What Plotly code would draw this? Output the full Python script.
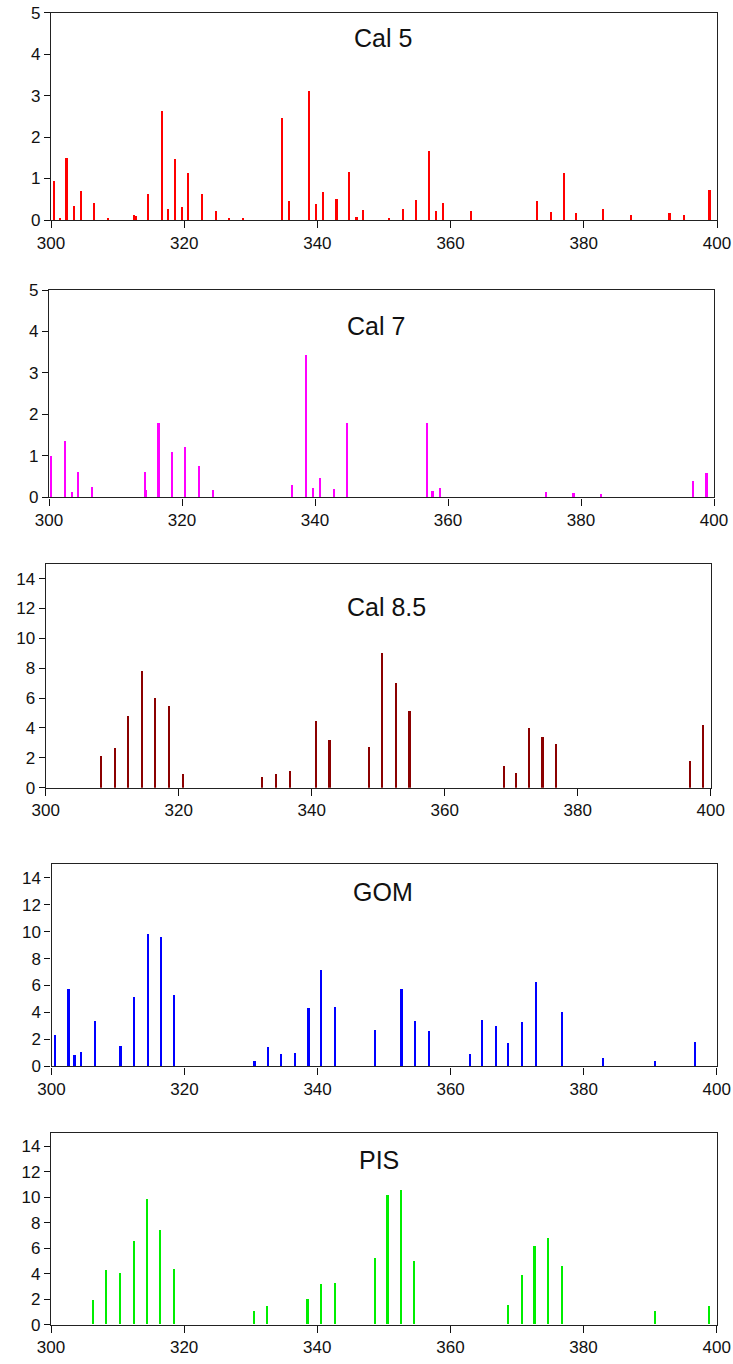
import plotly.graph_objects as go

W, H = 733, 1364

# ---------------- data ----------------
cal5_x = [300.5, 301.4, 302.4, 303.5, 304.5, 306.5, 308.5, 312.5, 312.8, 314.5, 316.6, 317.6, 318.6, 319.6,
          320.6, 322.6, 324.7, 326.7, 328.8, 334.7, 335.7, 338.7, 339.8, 340.8, 342.9, 344.8, 345.9, 346.9,
          350.8, 352.8, 354.8, 356.8, 357.8, 358.9, 363.0, 372.9, 375.0, 377.0, 378.9, 382.9, 387.1, 392.9,
          395.0, 398.9]
cal5_y = [0.94, 0.05, 1.50, 0.34, 0.71, 0.42, 0.06, 0.12, 0.10, 0.64, 2.63, 0.27, 1.49, 0.31,
          1.13, 0.63, 0.23, 0.05, 0.05, 2.47, 0.46, 3.12, 0.39, 0.69, 0.51, 1.17, 0.07, 0.24,
          0.05, 0.27, 0.50, 1.66, 0.22, 0.42, 0.22, 0.47, 0.20, 1.13, 0.17, 0.28, 0.14, 0.17,
          0.14, 0.72]

cal7_x = [300.3, 302.4, 303.4, 304.4, 306.5, 314.4, 314.6, 316.5, 318.5, 320.5, 322.6, 324.6, 336.6,
          338.7, 339.7, 340.8, 342.8, 344.8, 356.8, 357.7, 358.8, 374.8, 378.9, 383.0, 396.8, 398.9]
cal7_y = [1.00, 1.37, 0.13, 0.61, 0.25, 0.61, 0.18, 1.80, 1.09, 1.21, 0.76, 0.18, 0.30,
          3.43, 0.23, 0.46, 0.20, 1.80, 1.79, 0.15, 0.23, 0.13, 0.10, 0.08, 0.39, 0.59]

cal85_x = [308.3, 310.4, 312.4, 314.4, 316.4, 318.5, 320.6, 332.5, 334.6, 336.7, 340.6, 342.7, 348.6,
           350.6, 352.6, 354.7, 368.8, 370.7, 372.7, 374.7, 376.7, 396.9, 398.8]
cal85_y = [2.17, 2.66, 4.81, 7.83, 6.02, 5.52, 0.94, 0.72, 0.94, 1.12, 4.52, 3.20, 2.73,
           9.04, 7.02, 5.14, 1.48, 0.98, 4.05, 3.42, 2.97, 1.83, 4.20]

gom_x = [300.4, 302.5, 303.4, 304.4, 306.4, 310.3, 312.3, 314.4, 316.4, 318.4, 330.5, 332.5, 334.5,
         336.6, 338.6, 340.5, 342.6, 348.6, 352.6, 354.6, 356.7, 362.9, 364.7, 366.8, 368.6, 370.7,
         372.7, 376.7, 382.9, 390.7, 396.7]
gom_y = [2.28, 5.72, 0.84, 1.07, 3.37, 1.49, 5.15, 9.81, 9.61, 5.28, 0.37, 1.39, 0.87,
         0.99, 4.29, 7.14, 4.36, 2.70, 5.72, 3.37, 2.58, 0.92, 3.44, 2.97, 1.73, 3.30,
         6.24, 4.04, 0.62, 0.40, 1.81]

pis_x = [306.3, 308.3, 310.3, 312.4, 314.4, 316.4, 318.5, 330.5, 332.5, 338.6, 340.6, 342.7, 348.7,
         350.6, 352.6, 354.6, 368.7, 370.8, 372.7, 374.7, 376.8, 390.8, 398.9]
pis_y = [1.93, 4.28, 3.99, 6.54, 9.80, 7.43, 4.35, 1.02, 1.41, 1.96, 3.18, 3.26, 5.24,
         10.17, 10.56, 4.98, 1.49, 3.91, 6.13, 6.80, 4.54, 1.02, 1.41]

titles = ["Cal 5", "Cal 7", "Cal 8.5", "GOM", "PIS"]
x_ticks = [300, 320, 340, 360, 380, 400]
y_ranges = [[0, 5], [0, 5], [0, 15], [0, 15], [0, 15]]
y_dticks = [1, 1, 2, 2, 2]
colors = ["#FF0000", "#FF00FF", "#8B0000", "#0000FF", "#00EE00"]
series = [(cal5_x, cal5_y), (cal7_x, cal7_y), (cal85_x, cal85_y), (gom_x, gom_y), (pis_x, pis_y)]

# ---------------- layout (pixel boxes in window coordinates) ----------------
boxes = [  # x0, x1, ytop, ybottom
    (51, 717, 12.7, 220),
    (49, 714, 290, 497.3),
    (45.7, 710.7, 563.7, 787.7),
    (51.5, 716.7, 864.3, 1066.3),
    (51, 716.7, 1133.3, 1324.7),
]
title_pos = [(383, 38), (376, 325.5), (386.7, 607), (383.3, 892), (379.3, 1159.5)]


def px(x):
    return x / W


def py(y):
    return 1 - y / H


FONT = "Liberation Sans, Arial, sans-serif"

fig = go.Figure()
layout = dict(
    width=W, height=H,
    margin=dict(l=0, r=0, t=0, b=0, autoexpand=False),
    paper_bgcolor="white", plot_bgcolor="white",
    showlegend=False,
    font=dict(family=FONT, size=17, color="#111"),
    bargap=0,
)
annotations = []
for i, ((xs, ys), col, box) in enumerate(zip(series, colors, boxes)):
    n = "" if i == 0 else str(i + 1)
    fig.add_trace(go.Bar(x=xs, y=ys, width=0.3, marker=dict(color=col, line=dict(width=0)),
                         xaxis="x" + n, yaxis="y" + n))
    x0, x1, yt, yb = box
    layout["xaxis" + n] = dict(
        domain=[px(x0), px(x1)], anchor="y" + n, range=[300, 400], automargin=False,
        tickvals=x_ticks, ticks="outside", ticklen=7, tickwidth=1.3, tickcolor="#111",
        ticklabeloverflow="allow",
        showline=True, linecolor="#222", linewidth=1.4, mirror=True,
        showgrid=False, zeroline=False, tickfont=dict(size=17, family=FONT, color="#111"),
    )
    layout["yaxis" + n] = dict(
        domain=[py(yb), py(yt)], anchor="x" + n, range=y_ranges[i], automargin=False,
        dtick=y_dticks[i], tick0=0, ticks="outside", ticklen=6, tickwidth=1.3, tickcolor="#111",
        ticklabeloverflow="allow",
        showline=True, linecolor="#222", linewidth=1.4, mirror=True,
        showgrid=False, zeroline=False, tickfont=dict(size=17, family=FONT, color="#111"),
    )
    tx, ty = title_pos[i]
    annotations.append(dict(text=titles[i], x=px(tx), y=py(ty), xref="paper", yref="paper",
                            xanchor="center", yanchor="middle", showarrow=False,
                            font=dict(size=25, family=FONT, color="#111")))
layout["annotations"] = annotations
fig.update_layout(**layout)
fig.write_html("out.html",
               config={"displayModeBar": False},
               post_script="document.body.style.margin='0px';document.body.style.overflow='hidden';")
